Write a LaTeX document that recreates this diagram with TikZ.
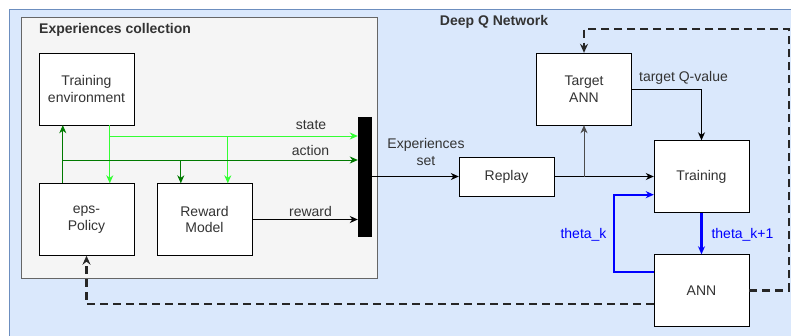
\documentclass[tikz,border=0pt]{standalone}
\usepackage{fontspec}
\setmainfont{Liberation Sans}
\usetikzlibrary{arrows.meta}
\definecolor{dqnfill}{HTML}{DAE8FC}
\definecolor{dqnedge}{HTML}{6C8EBF}
\definecolor{colfill}{HTML}{F5F5F5}
\definecolor{coledge}{HTML}{666666}
\definecolor{lgreen}{HTML}{33FF33}
\definecolor{dgreen}{HTML}{007A00}
\definecolor{txt}{HTML}{333333}
\tikzset{
  blk/.style={draw, fill=white, minimum width=95pt, minimum height=72pt, align=center, text=txt},
  tip/.style={-{Stealth[length=8pt,width=7pt,inset=2.5pt]}},
  wire/.style={tip, line width=1pt},
  lwire/.style={wire, draw=lgreen},
  dwire/.style={wire, draw=dgreen},
  bwire/.style={tip, draw=blue, line width=2.2pt},
  dashwire/.style={-{Stealth[length=9pt,width=8pt,inset=3pt]}, line width=2.3pt, draw=black!85, dash pattern=on 8pt off 5pt},
  lbl/.style={text=txt, inner sep=0pt}
}
\begin{document}
\begin{tikzpicture}[x=1pt,y=-1pt]
\fontsize{14}{16.5}\selectfont
\useasboundingbox (0,0) rectangle (791,335);
% frames
\path[draw=dqnedge, fill=dqnfill, line width=1pt] (9,9) rectangle (820,360);
\path[draw=coledge, fill=colfill, line width=1pt] (21,17) rectangle (377,278);
\node[lbl, font=\bfseries, anchor=west] (coltitle) at (39,30) {Experiences collection};
\node[lbl, font=\bfseries] (dqntitle) at (494,22) {Deep Q Network};
% experiences collection
\node[blk] (env) at (86.5,89) {Training\\environment};
\node[blk] (pol) at (86.5,219.5) {eps-\\Policy};
\node[blk] (rwd) at (204.5,219.5) {Reward\\Model};
\node[draw, fill=black, minimum width=13pt, minimum height=119pt, inner sep=0pt] (bar) at (364.5,176.5) {};
\coordinate (sj) at ([xshift=71pt]env.south west |- 0,136);
\coordinate (aj) at ([xshift=24pt]pol.north west |- 0,160);
\coordinate (rs) at ([xshift=71pt]rwd.north west);
\coordinate (ra) at ([xshift=24pt]rwd.north west);
\path[draw, lwire] ([xshift=71pt]env.south west) -- ([xshift=71pt]pol.north west);
\path[draw, lwire] (sj) -- (sj -| bar.west);
\path[draw, lwire] (rs |- sj) -- (rs);
\path[draw, dwire] ([xshift=24pt]pol.north west) -- ([xshift=24pt]env.south west);
\path[draw, dwire] (aj) -- (aj -| bar.west);
\path[draw, dwire] (ra |- aj) -- (ra);
\path[draw, wire] (rwd.east) -- (rwd.east -| bar.west);
\node[lbl] (lstate) at (311,125) {state};
\node[lbl] (laction) at (310.5,150) {action};
\node[lbl] (lreward) at (310.5,211) {reward};
% deep q network
\node[blk, minimum height=39pt] (rep) at (506.5,176.5) {Replay};
\node[blk] (tgt) at (584,89) {Target\\ANN};
\node[blk] (trn) at (701.5,176.5) {Training};
\node[blk] (ann) at (701.5,290.5) {ANN};
\path[draw, wire] (bar.east) -- (rep.west);
\node[lbl, align=center] (lset) at (426,152) {Experiences\\set};
\path[draw, wire] (rep.east) -- (trn.west);
\path[draw, wire, draw=black!70] (rep.east -| tgt.south) -- (tgt.south);
\path[draw, wire] (tgt.east) -| (trn.north);
\node[lbl] (lq) at (683.5,78) {target Q-value};
\path[draw, bwire] (trn.south) -- (ann.north);
\path[draw, bwire] ([yshift=-18pt]ann.north west) -- ++(-40,0) |- ([yshift=18pt]trn.south west);
\node[lbl, text=blue] (lk1) at (742.5,235) {theta\_k+1};
\node[lbl, text=blue] (lk) at (583.5,235) {theta\_k};
% weight copies
\coordinate (dq) at (789,29);
\path[draw, dashwire] (ann.east) -| (dq) -| (tgt.north);
\path[draw, dashwire] ([yshift=-50pt]ann.north west) -| (pol.south);
\end{tikzpicture}
\end{document}
